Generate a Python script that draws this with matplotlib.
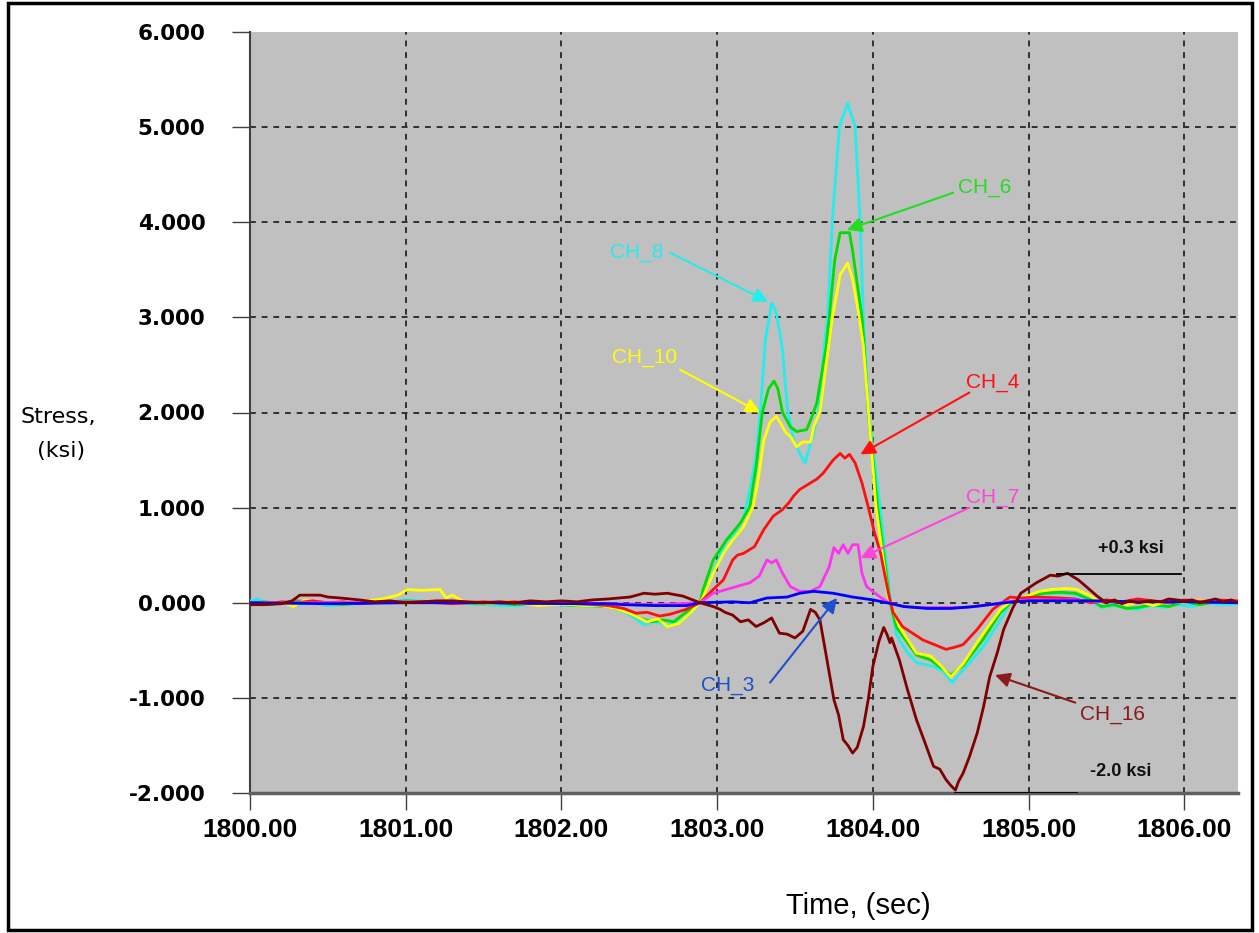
import matplotlib
matplotlib.use('Agg')
import matplotlib.pyplot as plt
from matplotlib.patches import Rectangle
from matplotlib.ticker import FormatStrFormatter
import numpy as np

T0 = 1800.0

# CH_8 (cyan)
t8 = [0.00, 0.05, 0.10, 0.15, 0.20, 0.30, 0.40, 0.50, 0.60, 0.70, 0.80, 0.90, 1.00, 1.10, 1.20,
      1.30, 1.40, 1.50, 1.60, 1.70, 1.80, 1.90, 2.00, 2.10, 2.20, 2.30, 2.38, 2.45, 2.53, 2.60,
      2.68, 2.75, 2.82, 2.89, 2.95, 3.00, 3.06, 3.10, 3.17, 3.21, 3.25, 3.28, 3.31, 3.35, 3.38,
      3.42, 3.45, 3.49, 3.53, 3.565, 3.62, 3.65, 3.69, 3.71, 3.74, 3.785, 3.838, 3.886, 3.918,
      3.939, 3.95, 3.972, 4.046, 4.115, 4.15, 4.17, 4.22, 4.28, 4.39, 4.45, 4.51, 4.55, 4.60,
      4.71, 4.82, 4.88, 4.95, 5.05, 5.15, 5.25, 5.32, 5.40, 5.47, 5.55, 5.63, 5.70, 5.78, 5.87,
      5.95, 6.05, 6.15, 6.25, 6.35]
v8 = [0.02, 0.04, 0.00, -0.02, 0.01, -0.02, 0.00, -0.03, -0.02, -0.01, 0.00, 0.01, 0.03, 0.02, 0.00,
      0.01, -0.01, -0.02, -0.03, -0.03, -0.02, -0.01, -0.02, -0.03, -0.04, -0.04, -0.08, -0.14, -0.23, -0.20,
      -0.24, -0.20, -0.12, 0.00, 0.22, 0.42, 0.66, 0.69, 0.90, 1.19, 1.54, 2.06, 2.77, 3.15, 3.05,
      2.66, 2.06, 1.71, 1.57, 1.47, 1.79, 2.01, 2.72, 3.01, 4.01, 5.01, 5.25, 5.01, 4.01,
      3.01, 2.69, 2.01, 1.01, 0.00, -0.32, -0.39, -0.52, -0.63, -0.67, -0.72, -0.84, -0.76, -0.67,
      -0.46, -0.18, 0.00, 0.06, 0.09, 0.10, 0.10, 0.08, 0.02, -0.05, -0.03, -0.06, -0.07, -0.03, -0.05,
      -0.02, -0.04, 0.00, -0.02, -0.01]

# CH_6 (green)
t6 = [0.00, 0.10, 0.20, 0.30, 0.40, 0.50, 0.60, 0.70, 0.80, 0.90, 1.00, 1.10, 1.20, 1.30, 1.40,
      1.50, 1.60, 1.70, 1.80, 1.90, 2.00, 2.10, 2.20, 2.30, 2.40, 2.50, 2.58, 2.65, 2.72, 2.80,
      2.89, 2.91, 2.975, 3.06, 3.15, 3.21, 3.25, 3.29, 3.33, 3.365, 3.39, 3.42, 3.47, 3.51, 3.575,
      3.60, 3.64, 3.70, 3.72, 3.755, 3.79, 3.85, 3.87, 3.93, 3.945, 3.97, 4.03, 4.11, 4.15, 4.17,
      4.28, 4.37, 4.50, 4.58, 4.71, 4.82, 4.90, 5.00, 5.10, 5.20, 5.30, 5.40, 5.47, 5.55, 5.63,
      5.70, 5.80, 5.90, 6.00, 6.10, 6.20, 6.35]
v6 = [0.00, 0.01, -0.01, 0.02, 0.01, -0.01, -0.02, 0.00, 0.01, 0.00, 0.02, 0.01, 0.00, 0.01, 0.00,
      -0.01, 0.00, -0.02, -0.01, -0.02, -0.02, -0.03, -0.03, -0.04, -0.08, -0.16, -0.20, -0.18, -0.20, -0.10,
      0.00, 0.14, 0.45, 0.66, 0.84, 1.01, 1.43, 2.00, 2.25, 2.33, 2.25, 2.00, 1.85, 1.80, 1.82,
      1.92, 2.10, 2.69, 3.00, 3.60, 3.89, 3.89, 3.70, 3.00, 2.69, 2.01, 1.01, 0.00, -0.25, -0.30,
      -0.55, -0.60, -0.76, -0.66, -0.38, -0.10, 0.02, 0.07, 0.10, 0.11, 0.10, 0.03, -0.04, -0.02, -0.06,
      -0.05, -0.02, -0.04, 0.01, -0.02, 0.01, 0.00]

# CH_10 (yellow)
t10 = [0.00, 0.10, 0.20, 0.28, 0.35, 0.45, 0.55, 0.65, 0.75, 0.85, 0.95, 1.01, 1.10, 1.22, 1.26,
       1.30, 1.36, 1.45, 1.55, 1.65, 1.75, 1.85, 1.95, 2.05, 2.15, 2.25, 2.35, 2.45, 2.55, 2.62,
       2.68, 2.75, 2.82, 2.89, 2.91, 2.975, 3.04, 3.10, 3.17, 3.23, 3.26, 3.30, 3.34, 3.38, 3.41,
       3.44, 3.47, 3.51, 3.55, 3.60, 3.62, 3.66, 3.715, 3.74, 3.79, 3.838, 3.87, 3.913, 3.94, 3.972,
       4.02, 4.10, 4.17, 4.28, 4.37, 4.43, 4.50, 4.58, 4.71, 4.82, 4.90, 4.99, 5.07, 5.15, 5.25,
       5.31, 5.40, 5.46, 5.55, 5.63, 5.72, 5.80, 5.90, 6.00, 6.10, 6.20, 6.35]
v10 = [-0.02, 0.00, 0.01, -0.04, 0.03, 0.00, -0.01, 0.01, 0.02, 0.04, 0.08, 0.14, 0.13, 0.14, 0.05,
       0.08, 0.02, 0.00, -0.01, 0.01, -0.01, -0.03, -0.02, -0.02, -0.03, -0.03, -0.06, -0.12, -0.20, -0.17,
       -0.25, -0.22, -0.12, 0.00, 0.06, 0.31, 0.52, 0.66, 0.80, 1.01, 1.26, 1.71, 1.90, 1.96, 1.88,
       1.79, 1.75, 1.64, 1.69, 1.69, 1.85, 2.01, 2.69, 3.00, 3.45, 3.57, 3.40, 3.00, 2.69, 2.01,
       1.01, 0.05, -0.25, -0.53, -0.56, -0.65, -0.78, -0.64, -0.32, -0.07, 0.03, 0.07, 0.12, 0.14, 0.15,
       0.14, 0.07, 0.00, 0.03, -0.02, 0.01, -0.03, 0.02, 0.00, 0.03, 0.01, 0.02]

# CH_4 (red)
t4 = [0.00, 0.10, 0.20, 0.30, 0.40, 0.50, 0.60, 0.70, 0.80, 0.90, 1.00, 1.10, 1.20, 1.30, 1.40,
      1.50, 1.60, 1.70, 1.80, 1.90, 2.00, 2.10, 2.20, 2.30, 2.40, 2.48, 2.55, 2.63, 2.70, 2.80,
      2.89, 2.975, 3.04, 3.10, 3.13, 3.17, 3.20, 3.24, 3.30, 3.36, 3.42, 3.46, 3.49, 3.53, 3.60,
      3.64, 3.68, 3.745, 3.79, 3.82, 3.85, 3.886, 3.93, 3.97, 4.01, 4.05, 4.07, 4.10, 4.13, 4.19,
      4.32, 4.47, 4.52, 4.58, 4.67, 4.77, 4.88, 4.95, 5.05, 5.20, 5.30, 5.40, 5.50, 5.60, 5.70,
      5.80, 5.90, 6.00, 6.10, 6.20, 6.35]
v4 = [0.00, -0.01, 0.01, 0.00, 0.02, 0.00, 0.01, -0.01, 0.00, 0.01, 0.00, 0.01, 0.00, -0.01, 0.00,
      0.01, 0.00, 0.01, -0.01, 0.00, 0.00, -0.01, -0.02, -0.03, -0.06, -0.11, -0.10, -0.14, -0.12, -0.07,
      0.00, 0.14, 0.24, 0.45, 0.50, 0.52, 0.55, 0.59, 0.77, 0.91, 0.98, 1.05, 1.12, 1.19, 1.26,
      1.30, 1.36, 1.50, 1.57, 1.52, 1.56, 1.47, 1.26, 1.01, 0.74, 0.52, 0.35, 0.10, -0.10, -0.25,
      -0.39, -0.49, -0.47, -0.44, -0.28, -0.07, 0.06, 0.05, 0.06, 0.05, 0.04, 0.00, 0.03, 0.01, 0.04,
      0.02, 0.00, 0.03, 0.01, 0.03, 0.02]

# CH_7 (magenta)
t7 = [0.00, 0.50, 1.00, 1.50, 2.00, 2.30, 2.60, 2.89, 2.975, 3.06, 3.21, 3.27, 3.32, 3.35, 3.38,
      3.42, 3.47, 3.53, 3.60, 3.66, 3.72, 3.75, 3.78, 3.81, 3.84, 3.87, 3.905, 3.93, 3.96, 4.03,
      4.10, 4.20, 4.30, 4.45, 4.60, 4.75, 4.90, 5.00, 5.30, 5.45, 5.70, 6.00, 6.35]
v7 = [0.00, 0.00, 0.01, 0.00, 0.00, -0.01, -0.02, 0.00, 0.10, 0.14, 0.21, 0.28, 0.45, 0.42, 0.45,
      0.31, 0.17, 0.12, 0.12, 0.17, 0.38, 0.58, 0.52, 0.61, 0.52, 0.61, 0.61, 0.31, 0.17, 0.08,
      0.00, -0.04, -0.05, -0.05, -0.05, -0.02, 0.02, 0.03, 0.03, 0.01, 0.01, 0.02, 0.01]

# CH_3 (blue)
t3 = [0.00, 0.50, 1.00, 1.50, 2.00, 2.30, 2.40, 2.60, 2.80, 2.89, 3.10, 3.21, 3.32, 3.45, 3.53,
      3.62, 3.745, 3.87, 4.00, 4.09, 4.20, 4.35, 4.50, 4.65, 4.80, 4.90, 5.00, 5.20, 5.43, 5.70,
      6.00, 6.35]
v3 = [0.00, -0.01, 0.00, 0.00, -0.01, -0.01, -0.02, -0.03, -0.03, 0.00, 0.01, 0.00, 0.05, 0.06, 0.10,
      0.12, 0.10, 0.06, 0.03, 0.00, -0.04, -0.06, -0.06, -0.04, -0.01, 0.01, 0.02, 0.02, 0.02, 0.01,
      0.01, 0.00]

# CH_16 (dark red)
t16 = [0.00, 0.10, 0.20, 0.27, 0.32, 0.45, 0.50, 0.58, 0.70, 0.80, 0.90, 1.00, 1.10, 1.20, 1.30,
       1.40, 1.50, 1.60, 1.70, 1.80, 1.90, 2.00, 2.10, 2.20, 2.30, 2.44, 2.53, 2.60, 2.68, 2.78,
       2.89, 2.975, 3.02, 3.05, 3.10, 3.15, 3.20, 3.25, 3.30, 3.35, 3.40, 3.45, 3.50, 3.55, 3.60,
       3.63, 3.66, 3.70, 3.75, 3.78, 3.81, 3.84, 3.87, 3.90, 3.94, 3.97, 4.00, 4.04, 4.07, 4.09,
       4.11, 4.12, 4.17, 4.22, 4.28, 4.33, 4.39, 4.43, 4.47, 4.50, 4.53, 4.55, 4.58, 4.62, 4.67,
       4.71, 4.75, 4.80, 4.84, 4.90, 4.95, 5.05, 5.14, 5.19, 5.25, 5.32, 5.37, 5.44, 5.50, 5.55,
       5.60, 5.65, 5.70, 5.78, 5.85, 5.90, 6.00, 6.05, 6.10, 6.15, 6.20, 6.25, 6.30, 6.35]
v16 = [-0.02, -0.02, -0.01, 0.02, 0.08, 0.08, 0.06, 0.05, 0.03, 0.01, 0.02, 0.00, 0.01, 0.02, 0.02,
       0.01, 0.00, 0.01, 0.00, 0.02, 0.01, 0.02, 0.01, 0.03, 0.04, 0.06, 0.10, 0.09, 0.10, 0.07,
       0.00, -0.04, -0.07, -0.10, -0.13, -0.20, -0.18, -0.25, -0.21, -0.16, -0.32, -0.33, -0.37, -0.30, -0.07,
       -0.10, -0.18, -0.55, -1.02, -1.18, -1.44, -1.50, -1.58, -1.52, -1.30, -1.02, -0.67, -0.40, -0.26, -0.33,
       -0.42, -0.37, -0.60, -0.90, -1.23, -1.45, -1.72, -1.75, -1.86, -1.92, -1.97, -1.88, -1.79, -1.62, -1.37,
       -1.10, -0.78, -0.52, -0.28, -0.05, 0.10, 0.21, 0.29, 0.28, 0.31, 0.24, 0.17, 0.07, 0.00, 0.03,
       -0.01, 0.02, 0.00, 0.02, 0.01, 0.04, 0.02, 0.03, 0.00, 0.02, 0.04, 0.01, 0.03, 0.00]

series = [
    ('CH_8', t8, v8, '#22EEEE'),
    ('CH_6', t6, v6, '#00DD00'),
    ('CH_10', t10, v10, '#FFFF00'),
    ('CH_4', t4, v4, '#FF1010'),
    ('CH_7', t7, v7, '#FF33EE'),
    ('CH_3', t3, v3, '#0000FF'),
    ('CH_16', t16, v16, '#800000'),
]

# label text position, arrow start, arrow tip (offsets from T0), text colour
labels = [
    ('CH_8', (2.486, 3.68), (2.697, 3.68), (3.327, 3.165), '#22EEEE'),
    ('CH_10', (2.537, 2.576), (2.762, 2.45), (3.276, 2.00), '#FFFF00'),
    ('CH_6', (4.72, 4.37), (4.515, 4.31), (3.834, 3.92), '#22DD22'),
    ('CH_4', (4.77, 2.32), (4.62, 2.21), (3.92, 1.56), '#FF1010'),
    ('CH_7', (4.77, 1.11), (4.62, 1.00), (3.92, 0.47), '#FF44DD'),
    ('CH_3', (3.07, -0.87), (3.34, -0.84), (3.77, 0.05), '#2050D0'),
    ('CH_16', (5.54, -1.17), (5.30, -1.05), (4.785, -0.76), '#8B1A1A'),
]

x_ticks = np.arange(1800, 1807, 1)
y_ticks = np.arange(-2, 7, 1)

fig = plt.figure(figsize=(12.59, 9.33), dpi=100)
ax = fig.add_axes([250 / 1259, 140 / 933, 988 / 1259, 761 / 933])
ax.set_facecolor('#C0C0C0')

for name, t, v, c in series:
    ax.plot(T0 + np.array(t), v, color=c, lw=2.0, zorder=3)

for name, tp, a0, a1, c in labels:
    ax.text(T0 + tp[0], tp[1], name, color=c, fontsize=15, ha='center', va='center',
            family='Liberation Sans', zorder=5)
    ax.annotate('', xy=(T0 + a1[0], a1[1]), xytext=(T0 + a0[0], a0[1]),
                arrowprops=dict(arrowstyle='-|>', color=c, lw=1.5, mutation_scale=22,
                                shrinkA=0, shrinkB=0), zorder=5)

# reference marks for max / min
ax.plot([T0 + 5.18, T0 + 5.98], [0.3, 0.3], color='black', lw=1.3, zorder=4)
ax.plot([T0 + 4.53, T0 + 5.31], [-2.0, -2.0], color='black', lw=1.3, zorder=4)
ax.text(T0 + 5.66, 0.57, '+0.3 ksi', fontsize=13, fontweight='bold', ha='center', va='center',
        family='Liberation Sans', color='#111111')
ax.text(T0 + 5.59, -1.77, '-2.0 ksi', fontsize=13, fontweight='bold', ha='center', va='center',
        family='Liberation Sans', color='#111111')

ax.set_xlim(1800, 1806.345)
ax.set_ylim(-2, 6)
ax.set_xticks(x_ticks)
ax.set_yticks(y_ticks)
ax.xaxis.set_major_formatter(FormatStrFormatter('%.2f'))
ax.yaxis.set_major_formatter(FormatStrFormatter('%.3f'))

# dashed grid, no line on the top edge
ax.grid(True, axis='x', color='#303030', linestyle=(0, (3, 3)), lw=1.4, zorder=1)
for yv in y_ticks[1:-1]:
    ax.axhline(yv, color='#303030', linestyle=(0, (3, 3)), lw=1.4, zorder=1)
ax.set_axisbelow(True)

ax.tick_params(axis='y', direction='out', length=13, width=1, color='#404040', pad=19,
               labelsize=15.5)
ax.tick_params(axis='x', direction='out', length=12, width=1, color='#404040', pad=6,
               labelsize=19)
for lab in ax.get_yticklabels():
    lab.set_fontweight('bold')
    lab.set_family('DejaVu Sans')
for lab in ax.get_xticklabels():
    lab.set_fontweight('bold')
    lab.set_family('Liberation Sans')

ax.spines['top'].set_visible(False)
ax.spines['right'].set_visible(False)
ax.spines['left'].set_color('#404040')
ax.spines['left'].set_linewidth(1.5)
ax.spines['bottom'].set_color('#606060')
ax.spines['bottom'].set_linewidth(2.5)

fig.text(58 / 1259, 1 - 434 / 933, 'Stress,\n (ksi)', fontsize=16, ha='center', va='center',
         family='DejaVu Sans', linespacing=1.9)
fig.text(858 / 1259, 1 - 906 / 933, 'Time, (sec)', fontsize=21, ha='center', va='center',
         family='Liberation Sans')

fig.patches.append(Rectangle((8 / 1259, 3 / 933), 1244 / 1259, 927 / 933, transform=fig.transFigure,
                             fill=False, edgecolor='black', lw=2.5))

fig.savefig('out.png', dpi=100)
